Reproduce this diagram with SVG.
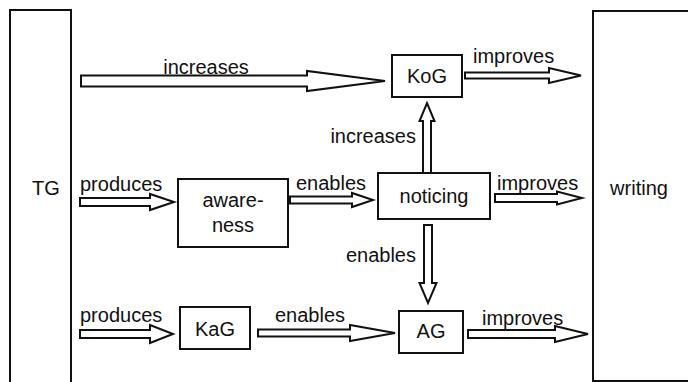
<svg xmlns="http://www.w3.org/2000/svg" width="688" height="382" viewBox="0 0 688 382">
<style>
.box{fill:#fff;stroke:#111;stroke-width:2}
.arr{fill:#fff;stroke:#111;stroke-width:2;stroke-linejoin:miter}
text{font-family:"Liberation Sans",Arial,sans-serif;font-size:20px;fill:#111}
.c{text-anchor:middle}
.e{text-anchor:end}
</style>
<rect width="688" height="382" fill="#fff"/>
<g id="TG"><rect class="box" x="10" y="10" width="61" height="380"/><text class="c" x="46" y="195">TG</text></g>
<g id="writing"><rect class="box" x="593" y="11" width="110" height="370"/><text class="c" x="639" y="195">writing</text></g>
<g id="KoG"><rect class="box" x="392" y="55" width="70" height="42"/><text class="c" x="427" y="83">KoG</text></g>
<g id="noticing"><rect class="box" x="378" y="173" width="112" height="46"/><text class="c" x="434" y="203">noticing</text></g>
<g id="awareness"><rect class="box" x="178" y="179" width="110" height="68"/><text class="c" x="233" y="207">aware-</text><text class="c" x="233" y="232">ness</text></g>
<g id="KaG"><rect class="box" x="180" y="307" width="70" height="42"/><text class="c" x="215" y="336">KaG</text></g>
<g id="AG"><rect class="box" x="399" y="311" width="64" height="42"/><text class="c" x="431" y="338">AG</text></g>
<g id="connectors">
<path class="arr" d="M81,75.5 L307,75.5 L307,71 L385,81 L307,91 L307,86.5 L81,86.5 Z"/>
<text x="206" y="74" class="c">increases</text>
<path class="arr" d="M465,72.5 L549,72.5 L549,68 L581,75.5 L549,83 L549,78.5 L465,78.5 Z"/>
<text x="473" y="63">improves</text>
<path class="arr" d="M423,173 L423,121 L419.5,121 L427,103 L434.5,121 L431,121 L431,173 Z"/>
<text x="416" y="143" class="e">increases</text>
<path class="arr" d="M80,198 L150,198 L150,194 L174,202 L150,210 L150,206 L80,206 Z"/>
<text x="80" y="191">produces</text>
<path class="arr" d="M290,196.5 L352,196.5 L352,193 L373,200 L352,207 L352,203.5 L290,203.5 Z"/>
<text x="296" y="190">enables</text>
<path class="arr" d="M495,194 L557,194 L557,191.5 L582,198 L557,204.5 L557,202 L495,202 Z"/>
<text x="497" y="190">improves</text>
<path class="arr" d="M424,225 L424,283 L419.5,283 L428,303 L436.5,283 L432,283 L432,225 Z"/>
<text x="416" y="262" class="e">enables</text>
<path class="arr" d="M80,330 L150,330 L150,325 L173,334 L150,343 L150,338 L80,338 Z"/>
<text x="80" y="322">produces</text>
<path class="arr" d="M258,329.5 L350,329.5 L350,325 L395,333 L350,341 L350,336.5 L258,336.5 Z"/>
<text x="275" y="322">enables</text>
<path class="arr" d="M468,330 L555,330 L555,326 L588,334 L555,342 L555,338 L468,338 Z"/>
<text x="482" y="325">improves</text>
</g>
</svg>
